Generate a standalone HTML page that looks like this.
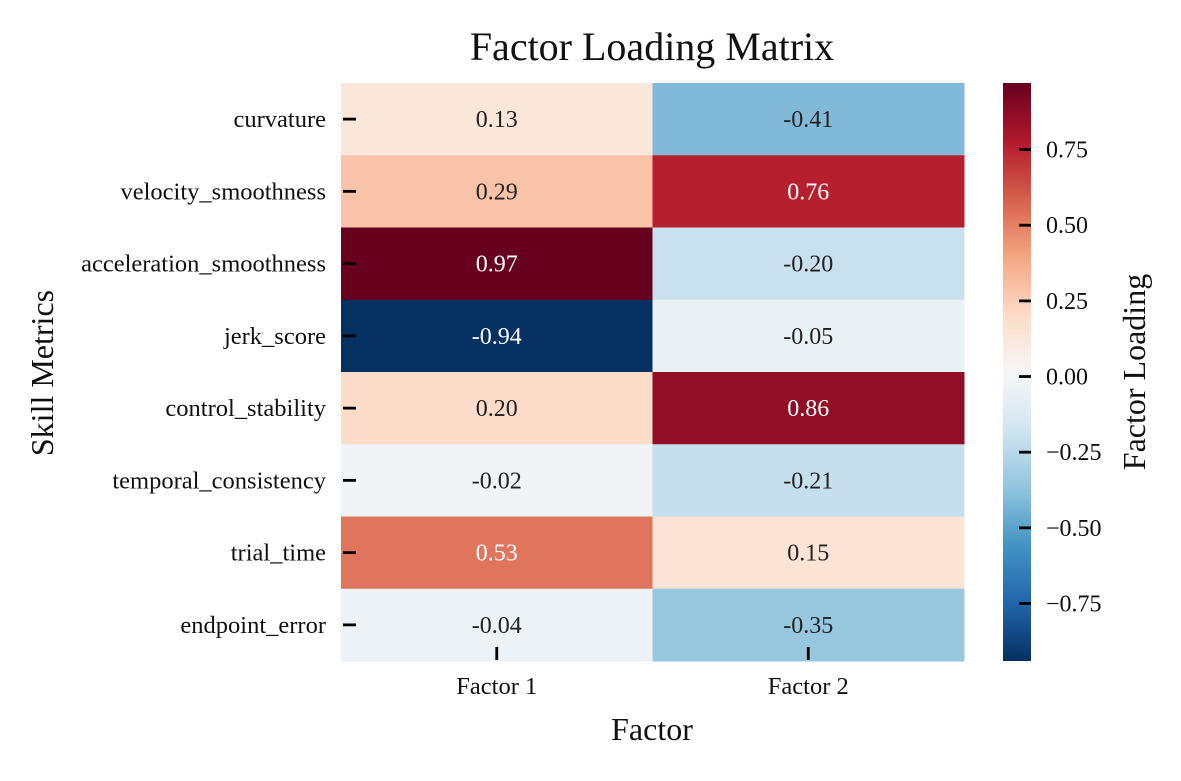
<!DOCTYPE html>
<html><head><meta charset="utf-8"><style>
body{margin:0;background:#fff}
svg text{font-family:"Liberation Serif",serif;fill:#111}
</style></head><body>
<svg id="c" width="1181" height="776" xmlns="http://www.w3.org/2000/svg">
<text x="652" y="60" font-size="40" text-anchor="middle">Factor Loading Matrix</text>
<text x="652" y="740" font-size="32" text-anchor="middle">Factor</text>
<text transform="translate(53,373) rotate(-90)" font-size="32" text-anchor="middle">Skill Metrics</text>
<text transform="translate(1145,372) rotate(-90)" font-size="32" text-anchor="middle">Factor Loading</text>
<g id="cells"></g><g id="cbar"></g>
</svg>
<script>
const metrics=["curvature","velocity_smoothness","acceleration_smoothness","jerk_score","control_stability","temporal_consistency","trial_time","endpoint_error"];
const factors=["Factor 1","Factor 2"];
const factor1=[0.13,0.29,0.97,-0.94,0.20,-0.02,0.53,-0.04];
const factor2=[-0.41,0.76,-0.20,-0.05,0.86,-0.21,0.15,-0.35];
const cbTicks=[0.75,0.5,0.25,0,-0.25,-0.5,-0.75];
const vmin=-0.94,vmax=0.97;
const stops=["#053061","#2166ac","#4393c3","#92c5de","#d1e5f0","#f7f7f7","#fddbc7","#f4a582","#d6604d","#b2182b","#67001f"];
function hex(h){return [1,3,5].map(i=>parseInt(h.substr(i,2),16));}
function cmap(v){let t=Math.max(0,Math.min(1,(v-vmin)/(vmax-vmin)))*10;let i=Math.min(9,Math.floor(t)),f=t-i;
const a=hex(stops[i]),b=hex(stops[i+1]);return a.map((x,k)=>Math.round(x+(b[k]-x)*f));}
function relLum(c){const l=c.map(x=>{x/=255;return x<=0.03928?x/12.92:Math.pow((x+0.055)/1.055,2.4);});return 0.2126*l[0]+0.7152*l[1]+0.0722*l[2];}
const NS="http://www.w3.org/2000/svg";
function el(tag,at,parent){const e=document.createElementNS(NS,tag);for(const k in at)e.setAttribute(k,at[k]);parent.appendChild(e);return e;}
const X0=341,X1=964,Y0=83,Y1=661;
const cw=(X1-X0)/factors.length,ch=(Y1-Y0)/metrics.length;
const xs=i=>X0+i*cw, ys=j=>Y0+j*ch;
const g=document.getElementById('cells');
const cols=[factor1,factor2];
cols.forEach((col,i)=>col.forEach((v,j)=>{
 const c=cmap(v);
 const r=el('rect',{x:xs(i),y:ys(j),width:cw+0.5,height:ch+0.5,fill:`rgb(${c})`},g);
 
 
}));
cols.forEach((col,i)=>col.forEach((v,j)=>{
 const c=cmap(v);
 const t=el('text',{x:xs(i)+cw/2,y:ys(j)+ch/2+8,'font-size':24,'text-anchor':'middle',style:'fill:'+(relLum(c)<0.408?'#fff':'#222')},g);
 t.textContent=v.toFixed(2);
 
 
}));
metrics.forEach((m,j)=>{
 const y=ys(j)+ch/2;
 el('line',{x1:343,x2:356,y1:y,y2:y,stroke:'#000','stroke-width':2.8},g);
 const t=el('text',{x:326,y:y+8,'font-size':24.5,'text-anchor':'end'},g);
 t.textContent=m;
 
 
});
factors.forEach((f,i)=>{
 const x=xs(i)+cw/2;
 el('line',{x1:x,x2:x,y1:647,y2:660,stroke:'#000','stroke-width':2.8},g);
 const t=el('text',{x:x,y:694,'font-size':24.5,'text-anchor':'middle'},g);
 t.textContent=f;
 
 
});
const cb=document.getElementById('cbar');
const CX=1003,CW=28;
const cy=v=>Y1-(v-vmin)/(vmax-vmin)*(Y1-Y0);
const defs=el('defs',{},cb);
const grad=el('linearGradient',{id:'gr',x1:0,y1:1,x2:0,y2:0},defs);
for(let k=0;k<=40;k++){const v=vmin+(vmax-vmin)*k/40;el('stop',{offset:k/40,'stop-color':`rgb(${cmap(v)})`},grad);}
const bar=el('rect',{x:CX,y:Y0,width:CW,height:Y1-Y0,fill:'url(#gr)'},cb);


cbTicks.forEach(v=>{
 const y=cy(v);
 el('line',{x1:1019,x2:1031,y1:y,y2:y,stroke:'#000','stroke-width':2.8},cb);
 const t=el('text',{x:1046,y:y+8,'font-size':24},cb);
 t.textContent=(v<0?'\u2212':'')+Math.abs(v).toFixed(2);
 
 
});
</script>
</body></html>
